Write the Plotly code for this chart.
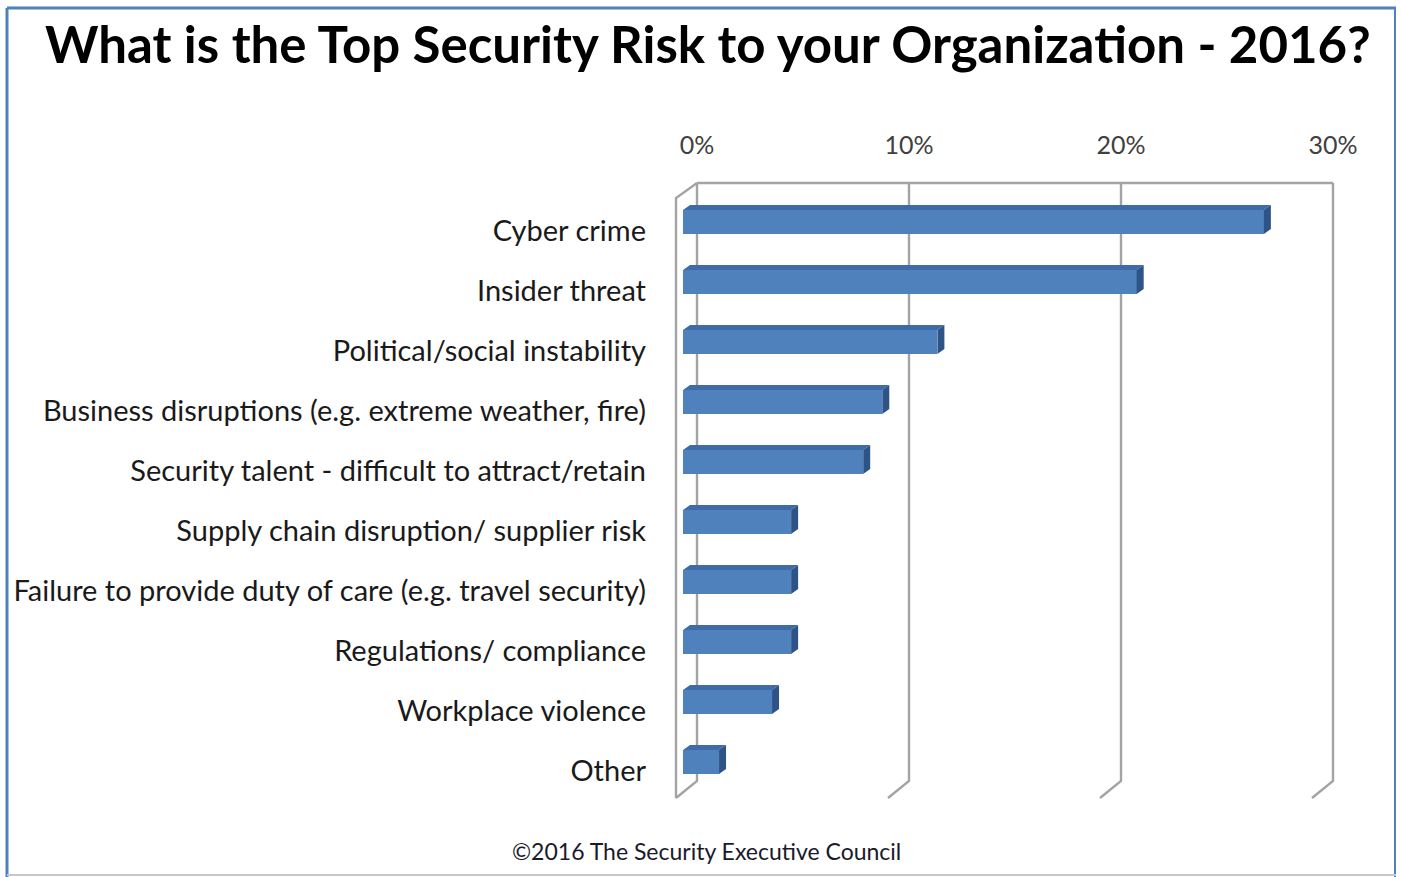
import plotly.graph_objects as go

categories = [
    "Cyber crime",
    "Insider threat",
    "Political/social instability",
    "Business disruptions (e.g. extreme weather, fire)",
    "Security talent - difficult to attract/retain",
    "Supply chain disruption/ supplier risk",
    "Failure to provide duty of care (e.g. travel security)",
    "Regulations/ compliance",
    "Workplace violence",
    "Other",
]
values = [27.4, 21.4, 12.0, 9.4, 8.5, 5.1, 5.1, 5.1, 4.2, 1.7]
tick_values = [0, 10, 20, 30]
tick_labels = ["0%", "10%", "20%", "30%"]

W, H = 1401, 877
L, R, T, B = 660, 41, 160, 57
PW, PH = W - L - R, H - T - B
PX_PER_PCT = 21.2
PX_PER_CAT = 60.0

def pxx(px):
    return (px - L) / PW

def pxy(py):
    return (H - B - py) / PH

def ycat(py):
    return -(222 - T) / PX_PER_CAT + (py - T) / PX_PER_CAT

yr_top = ycat(T)
yr_bot = ycat(H - B)

# main axis (back wall): 0 at 697 px
x_rng = [(L - 697) / PX_PER_PCT, (L + PW - 697) / PX_PER_PCT]
# bar axis (bar front faces): 0 at 683 px
x2_rng = [(L - 683) / PX_PER_PCT, (L + PW - 683) / PX_PER_PCT]

idx = list(range(len(categories)))
bar_w = 0.40
dx = 7 / PX_PER_PCT
dy = 5 / PX_PER_CAT
depth_x = 21 / PX_PER_PCT

fig = go.Figure()

# 3D grid walls
grid_col = "#A3A3A3"
y_top = ycat(183)
y_back_bot = ycat(781)
y_front_bot = ycat(798)
y_front_top = ycat(198)
gx, gy = [], []
for t in tick_values:
    gx += [t, t, t - depth_x, None]
    gy += [y_top, y_back_bot, y_front_bot, None]
gx += [tick_values[0], tick_values[-1], None]
gy += [y_top, y_top, None]
gx += [tick_values[0], tick_values[0] - depth_x, tick_values[0] - depth_x, None]
gy += [y_top, y_front_top, y_front_bot, None]
fig.add_trace(go.Scatter(x=gx, y=gy, mode="lines", line=dict(color=grid_col, width=2.4),
                         xaxis="x", yaxis="y", hoverinfo="skip", showlegend=False))

# bar top faces and side faces
tx, ty, sx, sy = [], [], [], []
for i, v in zip(idx, values):
    yt = i - bar_w / 2
    yb = i + bar_w / 2
    tx += [0, v, v + dx, dx, 0, None]
    ty += [yt, yt, yt - dy, yt - dy, yt, None]
    sx += [v, v + dx, v + dx, v, v, None]
    sy += [yt, yt - dy, yb - dy, yb, yt, None]
fig.add_trace(go.Scatter(x=tx, y=ty, mode="lines", fill="toself", fillcolor="#3F6CA8",
                         line=dict(width=0, color="#3F6CA8"), xaxis="x2", yaxis="y",
                         hoverinfo="skip", showlegend=False))
fig.add_trace(go.Scatter(x=sx, y=sy, mode="lines", fill="toself", fillcolor="#2E5487",
                         line=dict(width=0, color="#2E5487"), xaxis="x2", yaxis="y",
                         hoverinfo="skip", showlegend=False))

# bar front faces
fig.add_trace(go.Bar(x=values, y=idx, orientation="h", width=bar_w,
                     marker=dict(color="#4F81BD", line=dict(width=0)),
                     xaxis="x2", yaxis="y", showlegend=False,
                     customdata=categories, hovertemplate="%{customdata}: %{x}%<extra></extra>"))

font_family = "Lato, 'Open Sans', sans-serif"

fig.update_layout(
    width=W, height=H,
    margin=dict(l=L, r=R, t=T, b=B, autoexpand=False),
    paper_bgcolor="white", plot_bgcolor="white",
    template="none",
    xaxis=dict(range=x_rng, side="top", tickvals=tick_values, ticktext=tick_labels,
               showgrid=False, zeroline=False, showline=False, ticks="",
               tickfont=dict(family=font_family, size=25, color="#404040"),
               ticklabelstandoff=0, automargin=False, fixedrange=True),
    xaxis2=dict(range=x2_rng, overlaying="x", visible=False, fixedrange=True),
    yaxis=dict(range=[yr_bot, yr_top], tickvals=[i + 0.15 for i in idx], ticktext=categories,
               showgrid=False, zeroline=False, showline=False, ticks="",
               tickfont=dict(family=font_family, size=29, color="#1A1A1A"),
               ticklabelstandoff=13, automargin=False, fixedrange=True),
    bargap=0,
    annotations=[
        dict(text="<b>What is the Top Security Risk to your Organization - 2016?</b>",
             x=pxx(708), y=pxy(44), xref="paper", yref="paper", xanchor="center", yanchor="middle",
             showarrow=False, font=dict(family=font_family, size=51, color="#000000")),
        dict(text="©2016 The Security Executive Council",
             x=pxx(706), y=pxy(851), xref="paper", yref="paper", xanchor="center", yanchor="middle",
             showarrow=False, font=dict(family=font_family, size=23, color="#1A1A2A")),
    ],
    shapes=[
        dict(type="line", xref="paper", yref="paper", x0=pxx(7), x1=pxx(1396), y0=pxy(8), y1=pxy(8),
             line=dict(color="#4F81BD", width=3)),
        dict(type="line", xref="paper", yref="paper", x0=pxx(7), x1=pxx(7), y0=pxy(8), y1=pxy(877),
             line=dict(color="#4F81BD", width=3)),
        dict(type="line", xref="paper", yref="paper", x0=pxx(1395), x1=pxx(1395), y0=pxy(8), y1=pxy(877),
             line=dict(color="#4F81BD", width=2)),
        dict(type="line", xref="paper", yref="paper", x0=pxx(7), x1=pxx(1396), y0=pxy(875), y1=pxy(875),
             line=dict(color="#C8C8C8", width=2)),
    ],
)

fig.write_html("out.html")
